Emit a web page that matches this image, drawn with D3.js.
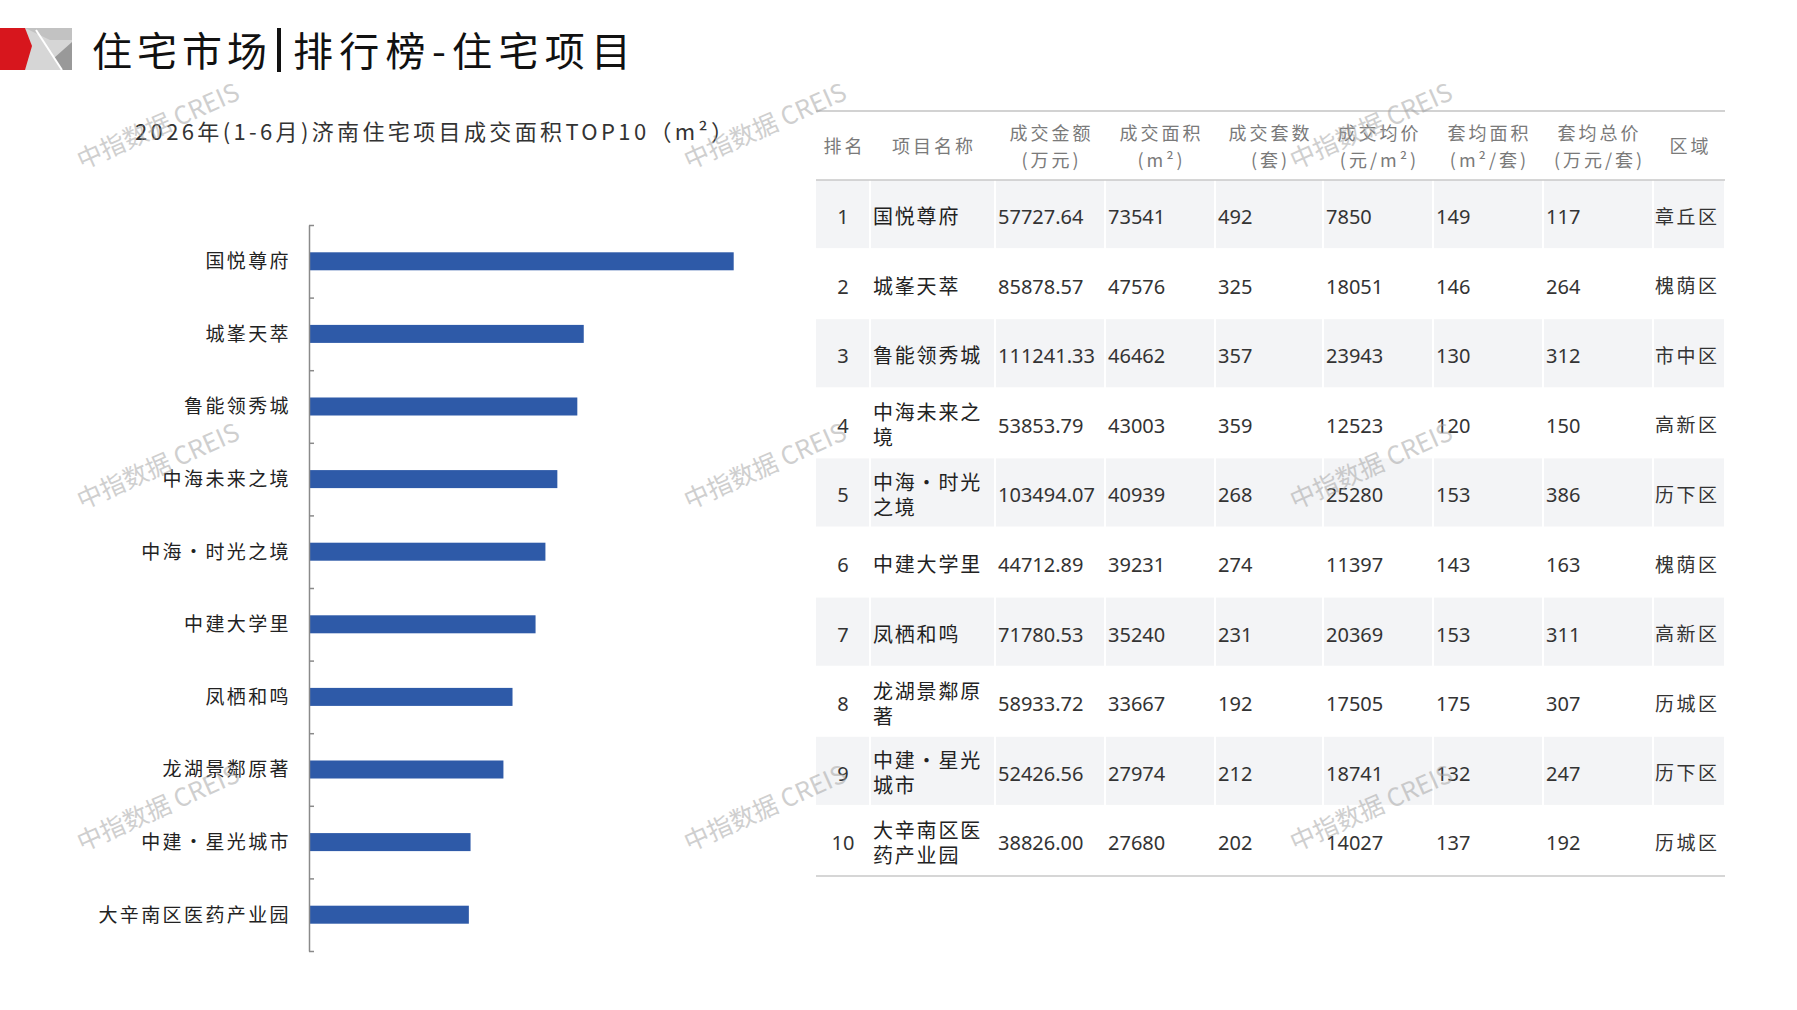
<!DOCTYPE html>
<html>
<head>
<meta charset="utf-8">
<script src="https://cdn.jsdelivr.net/npm/d3@7"></script>
<style>
body { margin: 0; background: #fff; }
svg { display: block; }
text { font-family: "Noto Sans CJK SC", "Noto Sans", sans-serif; }
.num { font-family: "Noto Sans", "Noto Sans CJK SC", sans-serif; }
</style>
</head>
<body>
<svg id="chart" width="1797" height="1010"></svg>
<script>
// data
const ranks = [1, 2, 3, 4, 5, 6, 7, 8, 9, 10];
const projects = ["国悦尊府", "城峯天萃", "鲁能领秀城", "中海未来之境", "中海·时光之境",
    "中建大学里", "凤栖和鸣", "龙湖景鄰原著", "中建·星光城市", "大辛南区医药产业园"];
const area = [73541, 47576, 46462, 43003, 40939, 39231, 35240, 33667, 27974, 27680];
const amount = ["57727.64", "85878.57", "111241.33", "53853.79", "103494.07",
    "44712.89", "71780.53", "58933.72", "52426.56", "38826.00"];
const sets = [492, 325, 357, 359, 268, 274, 231, 192, 212, 202];
const avgPrice = [7850, 18051, 23943, 12523, 25280, 11397, 20369, 17505, 18741, 14027];
const avgArea = [149, 146, 130, 120, 153, 143, 153, 175, 132, 137];
const avgTotal = [117, 264, 312, 150, 386, 163, 311, 307, 247, 192];
const districts = ["章丘区", "槐荫区", "市中区", "高新区", "历下区", "槐荫区", "高新区", "历城区", "历下区", "历城区"];
const headers = [["排名"], ["项目名称"], ["成交金额", "(万元)"], ["成交面积", "(m²)"], ["成交套数", "(套)"],
    ["成交均价", "(元/m²)"], ["套均面积", "(m²/套)"], ["套均总价", "(万元/套)"], ["区域"]];

const svg = d3.select("#chart");

/**
 * page title with the little logo
 */
const logo = svg.append("g");
logo.append("rect").attr("x", 25).attr("y", 28).attr("width", 47).attr("height", 42).attr("fill", "#d6d6d6");
logo.append("polygon").attr("points", "25,28 72,28 72,40 50,40").attr("fill", "#c2c2c2");
logo.append("polygon").attr("points", "72,42 72,70 62,70 54,58").attr("fill", "#999");
logo.append("line").attr("x1", 36).attr("y1", 30).attr("x2", 62).attr("y2", 70)
    .attr("stroke", "#fff").attr("stroke-width", 2);
logo.append("polygon").attr("points", "0,28 25,28 32,46 25,70 0,70").attr("fill", "#d7161d");

svg.append("text").attr("x", 92).attr("y", 66).attr("font-size", 40).attr("fill", "#111")
    .attr("textLength", 175).attr("lengthAdjust", "spacing").text("住宅市场");
svg.append("rect").attr("x", 277).attr("y", 28).attr("width", 4).attr("height", 44).attr("fill", "#111");
svg.append("text").attr("x", 293).attr("y", 66).attr("font-size", 40).attr("fill", "#111")
    .attr("textLength", 338).attr("lengthAdjust", "spacing").text("排行榜-住宅项目");

svg.append("text").attr("x", 135).attr("y", 140).attr("font-size", 22).attr("fill", "#333")
    .attr("textLength", 598).attr("lengthAdjust", "spacing")
    .text("2026年(1-6月)济南住宅项目成交面积TOP10（m²）");

/**
 * bar chart of 成交面积
 */
master = {};
master.bar = {};
master.bar.xScale = d3.scaleLinear().domain([0, 80000]).range([309, 771]);
master.bar.yScale = d3.scaleBand().domain(projects).range([225, 951])
    .paddingInner(0.752).paddingOuter(0.376);
const tickScale = d3.scaleLinear().domain([0, projects.length]).range([225, 951]);

svg.append("g")
    .attr("class", "bars")
    .selectAll("rect")
    .data(projects)
    .enter()
    .append("rect")
    .attr("x", master.bar.xScale(0))
    .attr("y", d => master.bar.yScale(d))
    .attr("height", master.bar.yScale.bandwidth())
    .attr("width", (d, i) => master.bar.xScale(area[i]) - master.bar.xScale(0))
    .attr("fill", "#2e5aa8");

const yAxis = svg.append("g")
    .attr("transform", "translate(" + master.bar.xScale(0) + ",0)")
    .call(d3.axisLeft(tickScale).tickValues(d3.range(projects.length + 1))
        .tickSizeInner(-5).tickSizeOuter(0).tickFormat(""));
yAxis.selectAll("path, line").attr("stroke", "#8a8a8a").attr("stroke-width", 1.5);

svg.append("g")
    .selectAll("text")
    .data(projects)
    .enter()
    .append("text")
    .attr("x", 291)
    .attr("y", d => master.bar.yScale(d) + master.bar.yScale.bandwidth() / 2)
    .attr("dy", "0.36em")
    .attr("text-anchor", "end")
    .attr("font-size", 19)
    .attr("letter-spacing", 2.4)
    .attr("fill", "#222")
    .text(d => d);

/**
 * the table on the right
 */
const colEdges = [816, 870, 995, 1105, 1215, 1323, 1433, 1543, 1653, 1725];
const rowScale = d3.scaleBand().domain(ranks).range([180, 876]);
const table = svg.append("g");

// shaded rows, white gaps between cells
ranks.forEach(function(r) {
    if (r % 2 === 0) return;
    for (let c = 0; c < colEdges.length - 1; c++) {
        table.append("rect")
            .attr("x", colEdges[c] + (c === 0 ? 0 : 1))
            .attr("y", rowScale(r))
            .attr("width", colEdges[c + 1] - colEdges[c] - (c === 0 ? 1 : 2))
            .attr("height", rowScale.bandwidth() - 1.5)
            .attr("fill", "#f3f4f6");
    }
});

table.append("line").attr("x1", colEdges[0]).attr("x2", colEdges[9]).attr("y1", 111).attr("y2", 111)
    .attr("stroke", "#d2d2d2").attr("stroke-width", 2);
table.append("line").attr("x1", colEdges[0]).attr("x2", colEdges[9]).attr("y1", 180).attr("y2", 180)
    .attr("stroke", "#c8c8c8").attr("stroke-width", 1.5);
table.append("line").attr("x1", colEdges[0]).attr("x2", colEdges[9]).attr("y1", 876).attr("y2", 876)
    .attr("stroke", "#c8c8c8").attr("stroke-width", 1.5);

headers.forEach(function(h, c) {
    const cx = (colEdges[c] + colEdges[c + 1]) / 2;
    const ys = h.length === 1 ? [147] : [134, 161];
    h.forEach(function(line, k) {
        table.append("text")
            .attr("x", cx + 1.5)
            .attr("y", ys[k])
            .attr("dy", "0.36em")
            .attr("text-anchor", "middle")
            .attr("font-size", 18)
            .attr("letter-spacing", 3)
            .attr("fill", "#7a7a7a")
            .text(line);
    });
});

const columns = [amount, area, sets, avgPrice, avgArea, avgTotal];
ranks.forEach(function(r, i) {
    const cy = rowScale(r) + rowScale.bandwidth() / 2 + 2;
    table.append("text").attr("class", "num")
        .attr("x", (colEdges[0] + colEdges[1]) / 2).attr("y", cy).attr("dy", "0.36em")
        .attr("text-anchor", "middle").attr("font-size", 20).attr("fill", "#333").text(r);

    // names wrap after 5 characters
    const chars = Array.from(projects[i]);
    const lines = [];
    for (let k = 0; k < chars.length; k += 5) lines.push(chars.slice(k, k + 5).join(""));
    lines.forEach(function(line, k) {
        table.append("text")
            .attr("x", colEdges[1] + 3)
            .attr("y", cy + (k - (lines.length - 1) / 2) * 25)
            .attr("dy", "0.36em")
            .attr("font-size", 20)
            .attr("letter-spacing", 1.8)
            .attr("fill", "#222")
            .text(line);
    });

    columns.forEach(function(col, c) {
        table.append("text").attr("class", "num")
            .attr("x", colEdges[c + 2] + 3).attr("y", cy).attr("dy", "0.36em")
            .attr("font-size", 20).attr("fill", "#333").text(col[i]);
    });

    table.append("text")
        .attr("x", colEdges[8] + 2).attr("y", cy).attr("dy", "0.36em")
        .attr("font-size", 19).attr("letter-spacing", 2.5).attr("fill", "#333").text(districts[i]);
});

/**
 * watermark grid
 */
const markX = [158, 765, 1371];
const markY = [126, 466, 808];
markY.forEach(function(y) {
    markX.forEach(function(x) {
        svg.append("text")
            .attr("transform", "translate(" + x + "," + y + ") rotate(-24)")
            .attr("text-anchor", "middle")
            .attr("dy", "0.36em")
            .attr("font-size", 25)
            .attr("fill", "#a0a0a0")
            .attr("opacity", 0.5)
            .text("中指数据 CREIS");
    });
});
</script>
</body>
</html>
